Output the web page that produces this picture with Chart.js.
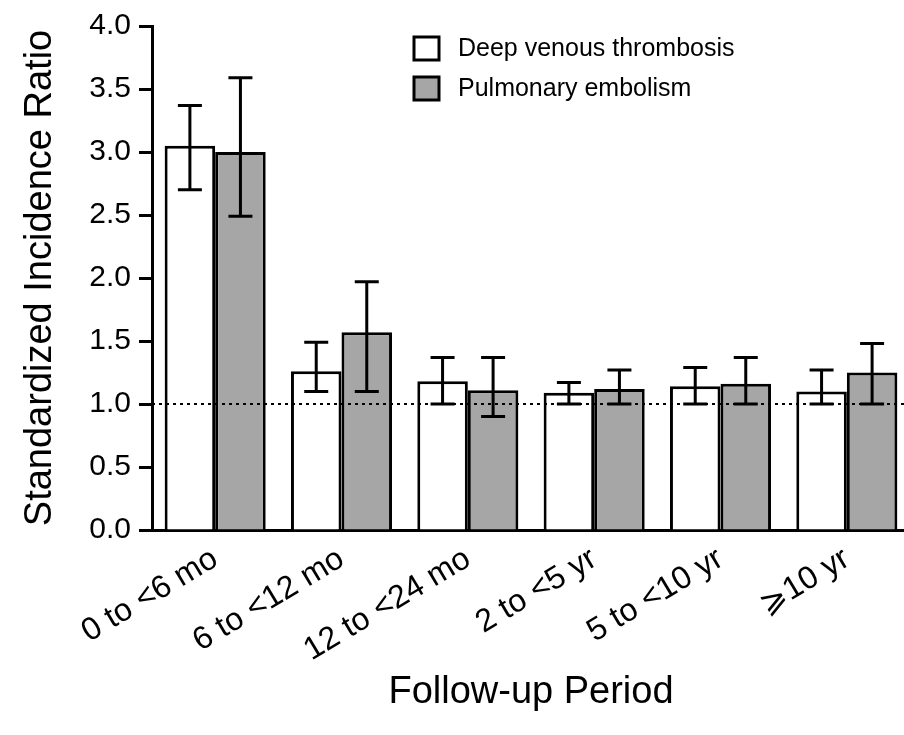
<!DOCTYPE html>
<html>
<head>
<meta charset="utf-8">
<script src="https://cdn.jsdelivr.net/npm/chart.js@4/dist/chart.umd.min.js"></script>
<style>
  html, body { margin: 0; padding: 0; background: #fff; overflow: hidden; }
  #wrap { width: 904px; height: 735px; overflow: hidden; }
  #inner { width: 910px; height: 735px; }
</style>
</head>
<body>
<div id="wrap"><div id="inner"><canvas id="sirchart"></canvas></div></div>
<script>
const periods = ["0 to <6 mo", "6 to <12 mo", "12 to <24 mo", "2 to <5 yr", "5 to <10 yr", "\u2a7e10 yr"];

const dvtSir = [3.05, 1.26, 1.18, 1.09, 1.14, 1.10];
const dvtLow = [2.70, 1.10, 1.00, 1.00, 1.00, 1.00];
const dvtHigh = [3.37, 1.49, 1.37, 1.17, 1.29, 1.27];

const peSir = [3.00, 1.57, 1.11, 1.12, 1.16, 1.25];
const peLow = [2.49, 1.10, 0.90, 1.00, 1.00, 1.00];
const peHigh = [3.59, 1.97, 1.37, 1.27, 1.37, 1.48];

const yTicks = [0, 0.5, 1, 1.5, 2, 2.5, 3, 3.5, 4];
const refLine = 1.0;

const font = "'Liberation Sans', Arial, sans-serif";
const lows = [dvtLow, peLow];
const highs = [dvtHigh, peHigh];

// error bars, reference line and the legend
const extras = {
  id: "extras",
  afterDatasetsDraw(chart) {
    const ctx = chart.ctx;
    const y = chart.scales.y;
    const area = chart.chartArea;

    ctx.save();
    ctx.strokeStyle = "#000";
    ctx.lineWidth = 3;
    chart.data.datasets.forEach((ds, di) => {
      chart.getDatasetMeta(di).data.forEach((bar, i) => {
        const x = bar.x;
        const top = y.getPixelForValue(highs[di][i]);
        const bot = y.getPixelForValue(lows[di][i]);
        ctx.beginPath();
        ctx.moveTo(x, top);
        ctx.lineTo(x, bot);
        ctx.moveTo(x - 12, top);
        ctx.lineTo(x + 12, top);
        ctx.moveTo(x - 12, bot);
        ctx.lineTo(x + 12, bot);
        ctx.stroke();
      });
    });

    const ry = y.getPixelForValue(refLine);
    ctx.lineWidth = 2;
    ctx.setLineDash([3, 4]);
    ctx.beginPath();
    ctx.moveTo(area.left, ry);
    ctx.lineTo(area.right, ry);
    ctx.stroke();
    ctx.setLineDash([]);

    // legend
    ctx.font = "25px " + font;
    ctx.textBaseline = "middle";
    chart.data.datasets.forEach((ds, di) => {
      const by = 37 + di * 40;
      ctx.fillStyle = ds.backgroundColor;
      ctx.fillRect(414, by, 25, 23);
      ctx.lineWidth = 3;
      ctx.strokeRect(414, by, 25, 23);
      ctx.fillStyle = "#000";
      ctx.fillText(ds.label, 458, by + 12);
    });
    ctx.restore();
  },
};

new Chart(document.getElementById("sirchart"), {
  type: "bar",
  data: {
    labels: periods,
    datasets: [
      {
        label: "Deep venous thrombosis",
        data: dvtSir,
        backgroundColor: "#ffffff",
        borderColor: "#000",
        borderWidth: 3,
      },
      {
        label: "Pulmonary embolism",
        data: peSir,
        backgroundColor: "#a6a6a6",
        borderColor: "#000",
        borderWidth: 3,
      },
    ],
  },
  options: {
    responsive: true,
    maintainAspectRatio: false,
    animation: false,
    layout: { padding: { top: 23, right: 0, bottom: 0, left: 0 } },
    datasets: { bar: { barPercentage: 1.0, categoryPercentage: 0.8 } },
    plugins: { legend: { display: false }, tooltip: { enabled: false } },
    scales: {
      x: {
        grid: { display: false },
        border: { color: "#000", width: 3 },
        ticks: {
          color: "#000",
          font: { family: font, size: 32 },
          minRotation: 31,
          maxRotation: 31,
          padding: 2,
        },
        title: {
          display: true,
          text: "Follow-up Period",
          color: "#000",
          font: { family: font, size: 38 },
          padding: { top: 0, bottom: 20 },
        },
        afterFit(scale) {
          scale.height = 205;
        },
      },
      y: {
        min: 0,
        max: 4,
        afterBuildTicks(scale) {
          scale.ticks = yTicks.map((v) => ({ value: v }));
        },
        grid: {
          drawOnChartArea: false,
          drawTicks: true,
          tickLength: 13,
          tickWidth: 3,
          tickColor: "#000",
        },
        border: { color: "#000", width: 3 },
        ticks: {
          color: "#000",
          font: { family: font, size: 30 },
          padding: 8,
          callback: (v) => Number(v).toFixed(1),
        },
        title: {
          display: true,
          text: "Standardized Incidence Ratio",
          color: "#000",
          font: { family: font, size: 38 },
          padding: { top: 18, bottom: 0 },
        },
        afterFit(scale) {
          scale.width = 152;
        },
      },
    },
  },
  plugins: [extras],
});
</script>
</body>
</html>
